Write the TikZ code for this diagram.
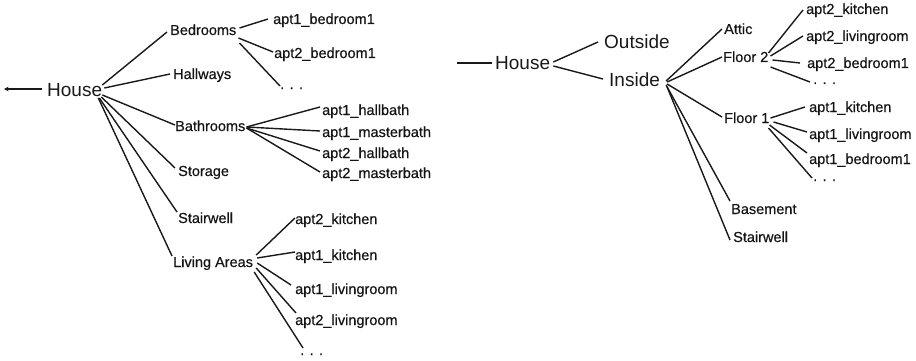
\documentclass[tikz,border=0pt]{standalone}
\usepackage{fontspec}
\setmainfont{Liberation Sans}
\newfontfamily\lblfont[FakeBold=0.4]{Liberation Sans}
\usetikzlibrary{arrows.meta}
\begin{document}
\begin{tikzpicture}[x=1pt,y=-1pt,
  lbl/.style={anchor=base west,inner sep=0pt,text=black!92,font=\lblfont\fontsize{14.5}{17}\selectfont},
  big/.style={anchor=base west,inner sep=0pt,text=black!90,font=\fontsize{19}{22}\selectfont},
  link/.style={draw=black!90,line width=1.4pt}]
\useasboundingbox (0,0) rectangle (916,361);

% ---------- room-based tree ----------
\node[big] (H1) at (47,96) {House};
\coordinate (lstub) at (4,89);
\draw[link,line width=1.1pt,{Stealth[length=4.5pt,width=4.5pt]}-] (lstub) -- ([shift={(-5,-7)}]H1.base west);

\node[lbl] (bed) at (170,35) {Bedrooms};
\node[lbl] (hall) at (173,79) {Hallways};
\node[lbl] (bath) at (175,131) {Bathrooms};
\node[lbl] (stor) at (178,176) {Storage};
\node[lbl] (stw1) at (178,223) {Stairwell};
\node[lbl] (liv) at (173,267) {Living Areas};

\node[lbl] (b1) at (273,24) {apt1\_bedroom1};
\node[lbl] (b2) at (274,58) {apt2\_bedroom1};
\node[lbl] (bd) at (280,89) {. . .};

\node[lbl] (t1) at (322,115) {apt1\_hallbath};
\node[lbl] (t2) at (322,137) {apt1\_masterbath};
\node[lbl] (t3) at (322,158) {apt2\_hallbath};
\node[lbl] (t4) at (322,178) {apt2\_masterbath};

\node[lbl] (l1) at (295,224) {apt2\_kitchen};
\node[lbl] (l2) at (295,260) {apt1\_kitchen};
\node[lbl] (l3) at (295,294) {apt1\_livingroom};
\node[lbl] (l4) at (295,325) {apt2\_livingroom};
\node[lbl] (ld) at (300,355) {. . .};

\draw[link] ([shift={(0,-11)}]H1.base east) -- ([shift={(-3,-3)}]bed.base west);
\draw[link] ([shift={(2,-8)}]H1.base east) -- ([shift={(-3,-5)}]hall.base west);
\draw[link] ([shift={(0,-1)}]H1.base east) -- ([shift={(0,-6)}]bath.base west);
\draw[link] ([shift={(-1,1)}]H1.base east) -- ([shift={(-3,-8)}]stor.base west);
\draw[link] ([shift={(-3,2)}]H1.base east) -- ([shift={(-1,-11)}]stw1.base west);
\draw[link] ([shift={(-4,2)}]H1.base east) -- ([shift={(-1,-11)}]liv.base west);

\draw[link] ([shift={(3,-7)}]bed.base east) -- ([shift={(-5,-5)}]b1.base west);
\draw[link] ([shift={(2,3)}]bed.base east) -- ([shift={(-1,-6)}]b2.base west);
\draw[link] ([shift={(3,8)}]bed.base east) -- ([shift={(0,-3)}]bd.base west);

\draw[link] ([shift={(1,-4)}]bath.base east) -- ([shift={(-2,-8)}]t1.base west);
\draw[link] ([shift={(1,-4)}]bath.base east) -- ([shift={(-2,-6)}]t2.base west);
\draw[link] ([shift={(1,-3)}]bath.base east) -- ([shift={(-2,-7)}]t3.base west);
\draw[link] ([shift={(1,-3)}]bath.base east) -- ([shift={(-2,-6)}]t4.base west);

\draw[link] ([shift={(3,-12)}]liv.base east) -- ([shift={(0,-6)}]l1.base west);
\draw[link] ([shift={(4,-9)}]liv.base east) -- ([shift={(0,-8)}]l2.base west);
\draw[link] ([shift={(4,-4)}]liv.base east) -- ([shift={(-4,-9)}]l3.base west);
\draw[link] ([shift={(3,1)}]liv.base east) -- ([shift={(1,-12)}]l4.base west);
\draw[link] ([shift={(1,5)}]liv.base east) -- ([shift={(3,-7)}]ld.base west);

% ---------- floor-based tree ----------
\node[big] (H2) at (495,70) {House};
\node[big] (out) at (604,49) {Outside};
\node[big] (ins) at (609,87) {Inside};
\coordinate (rstub) at (457,63);
\draw[link] (rstub) -- ([shift={(-3,-7)}]H2.base west);

\node[lbl] (att) at (724,34) {Attic};
\node[lbl] (f2) at (723,62) {Floor 2};
\node[lbl] (f1) at (724,123) {Floor 1};
\node[lbl] (bas) at (731,214) {Basement};
\node[lbl] (stw2) at (733,242) {Stairwell};

\node[lbl] (u1) at (806,14) {apt2\_kitchen};
\node[lbl] (u2) at (806,41) {apt2\_livingroom};
\node[lbl] (u3) at (807,68) {apt2\_bedroom1};
\node[lbl] (ud) at (813,84) {. . .};

\node[lbl] (v1) at (809,112) {apt1\_kitchen};
\node[lbl] (v2) at (809,139) {apt1\_livingroom};
\node[lbl] (v3) at (809,164) {apt1\_bedroom1};
\node[lbl] (vd) at (813,181) {. . .};

\draw[link] ([shift={(3,-8)}]H2.base east) -- ([shift={(-6,-7)}]out.base west);
\draw[link] ([shift={(3,-4)}]H2.base east) -- ([shift={(-6,-8)}]ins.base west);

\draw[link] ([shift={(6,-6)}]ins.base east) -- ([shift={(-2,-5)}]att.base west);
\draw[link] ([shift={(7,-5)}]ins.base east) -- ([shift={(-1,-5)}]f2.base west);
\draw[link] ([shift={(7,-3)}]ins.base east) -- ([shift={(-2,-6)}]f1.base west);
\draw[link] ([shift={(6,-2)}]ins.base east) -- ([shift={(-1,-13)}]bas.base west);
\draw[link] ([shift={(7,0)}]ins.base east) -- ([shift={(-3,-2)}]stw2.base west);

\draw[link] ([shift={(0,-9)}]f2.base east) -- ([shift={(-3,-4)}]u1.base west);
\draw[link] ([shift={(2,-6)}]f2.base east) -- ([shift={(-3,-5)}]u2.base west);
\draw[link] ([shift={(4,-2)}]f2.base east) -- ([shift={(-7,-5)}]u3.base west);
\draw[link] ([shift={(2,5)}]f2.base east) -- ([shift={(-3,-2)}]ud.base west);

\draw[link] ([shift={(1,-5)}]f1.base east) -- ([shift={(-4,-5)}]v1.base west);
\draw[link] ([shift={(4,-1)}]f1.base east) -- ([shift={(-2,-7)}]v2.base west);
\draw[link] ([shift={(0,2)}]f1.base east) -- ([shift={(-2,-11)}]v3.base west);
\draw[link] ([shift={(-1,5)}]f1.base east) -- ([shift={(-1,-3)}]vd.base west);
\end{tikzpicture}
\end{document}
